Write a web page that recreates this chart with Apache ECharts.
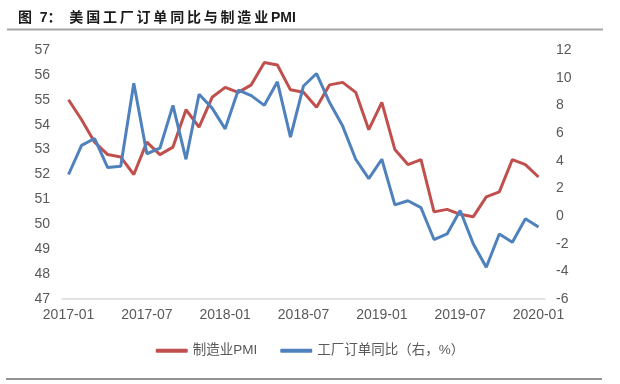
<!DOCTYPE html>
<html>
<head>
<meta charset="utf-8">
<script src="https://cdn.jsdelivr.net/npm/echarts@6/dist/echarts.min.js"></script>
<style>html,body{margin:0;padding:0;background:#fff;}#c{width:620px;height:384px;}</style>
</head>
<body>
<div id="c"></div>
<script>
var categories = ['2017-01','2017-02','2017-03','2017-04','2017-05','2017-06','2017-07','2017-08','2017-09','2017-10','2017-11','2017-12',
'2018-01','2018-02','2018-03','2018-04','2018-05','2018-06','2018-07','2018-08','2018-09','2018-10','2018-11','2018-12',
'2019-01','2019-02','2019-03','2019-04','2019-05','2019-06','2019-07','2019-08','2019-09','2019-10','2019-11','2019-12','2020-01'];
var pmi = [55.0,54.2,53.3,52.8,52.7,52.0,53.3,52.8,53.1,54.6,53.9,55.1,
55.5,55.3,55.6,56.5,56.4,55.4,55.3,54.7,55.6,55.7,55.3,53.8,
54.9,53.0,52.4,52.6,50.5,50.6,50.4,50.3,51.1,51.3,52.6,52.4,51.9];
var orders = [3.0,5.1,5.6,3.5,3.6,9.6,4.5,4.9,8.0,4.1,8.8,7.8,
6.3,9.1,8.7,8.0,9.7,5.7,9.4,10.3,8.2,6.5,4.1,2.7,
4.1,0.8,1.1,0.6,-1.7,-1.3,0.4,-2.0,-3.7,-1.3,-1.9,-0.2,-0.8];
var leftTicks = {min:47, max:57, interval:1};
var rightTicks = {min:-6, max:12, interval:2};
var titleText = '图 7：美国工厂订单同比与制造业PMI';
var legendNames = ['制造业PMI','工厂订单同比（右，%）'];

function spaced(s){
  var head = '图  7：  ';
  var rest = s.slice(4);
  var out = '';
  for (var i=0;i<rest.length;i++){
    var ch = rest[i];
    out += ch;
    var code = ch.charCodeAt(0);
    if (code > 0x2e80 && i < rest.length-1) out += '\u2009';
  }
  return head + out;
}

var chart = echarts.init(document.getElementById('c'), null, {renderer:'canvas'});
var font = '"Liberation Sans", Arial, "Noto Sans CJK SC", sans-serif';
var labelColor = '#595959';
chart.setOption({
  animation:false,
  backgroundColor:'#fff',
  title:{
    text: spaced(titleText),
    left: 13, top: 6,
    textStyle:{fontSize:14, fontWeight:'bold', color:'#1a1a1a', fontFamily:font}
  },
  graphic:[
    {type:'line', shape:{x1:7,y1:29.5,x2:603,y2:29.5}, style:{stroke:'#a6a6a6', lineWidth:2}},
    {type:'line', shape:{x1:6,y1:379,x2:602,y2:379}, style:{stroke:'#6e6e6e', lineWidth:1.5}}
  ],
  legend:{
    data: legendNames,
    top: 339, left: 'center',
    icon: 'roundRect',
    itemWidth: 32, itemHeight: 4,
    itemGap: 23,
    textStyle:{fontSize:13.5, color:labelColor, fontFamily:font}
  },
  grid:{left:62, right:75, top:50, bottom:85},
  xAxis:{
    type:'category', data:categories, boundaryGap:true,
    axisLine:{onZero:false, lineStyle:{color:'#d9d9d9', width:1.5}},
    axisTick:{interval:5, length:5, lineStyle:{color:'#d9d9d9', width:1.5}},
    axisLabel:{interval:5, color:labelColor, fontSize:14, fontFamily:font, margin:9}
  },
  yAxis:[
    {type:'value', min:leftTicks.min, max:leftTicks.max, interval:leftTicks.interval,
     axisLine:{show:false}, axisTick:{show:false}, splitLine:{show:false},
     axisLabel:{color:labelColor, fontSize:14, fontFamily:font, margin:12}},
    {type:'value', min:rightTicks.min, max:rightTicks.max, interval:rightTicks.interval,
     axisLine:{show:false}, axisTick:{show:false}, splitLine:{show:false},
     axisLabel:{color:labelColor, fontSize:14, fontFamily:font, margin:11}}
  ],
  series:[
    {name:legendNames[0], type:'line', data:pmi, yAxisIndex:0, symbol:'none',
     lineStyle:{color:'#c0504d', width:3}, itemStyle:{color:'#c0504d'}, z:2},
    {name:legendNames[1], type:'line', data:orders, yAxisIndex:1, symbol:'none',
     lineStyle:{color:'#4f81bd', width:3}, itemStyle:{color:'#4f81bd'}, z:3}
  ]
});
</script>
</body>
</html>
